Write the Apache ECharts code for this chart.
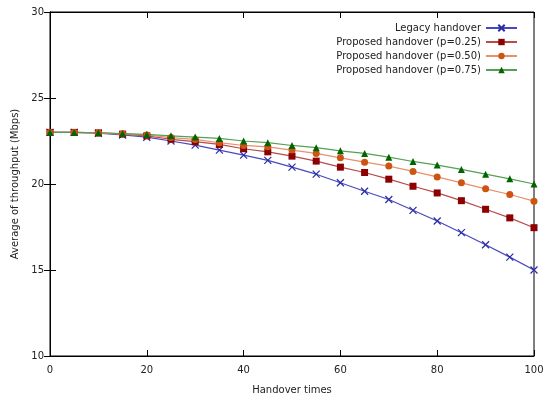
<!DOCTYPE html>
<html>
<head>
<meta charset="utf-8">
<script src="https://cdn.jsdelivr.net/npm/echarts@6/dist/echarts.min.js"></script>
<style>
  html, body { margin: 0; padding: 0; background: #fff; }
  #chart { width: 547px; height: 398px; }
</style>
</head>
<body>
<div id="chart"></div>
<script>
// handover counts on the x axis
const handoverTimes = [0, 5, 10, 15, 20, 25, 30, 35, 40, 45, 50, 55, 60, 65, 70, 75, 80, 85, 90, 95, 100];

// average throughput (Mbps)
const legacy = [23.0, 23.0, 22.95, 22.85, 22.72, 22.5, 22.26, 21.97, 21.68, 21.37, 20.98, 20.57, 20.07, 19.58, 19.1, 18.47, 17.85, 17.17, 16.47, 15.75, 15.0];
const p025 = [23.0, 23.0, 22.97, 22.9, 22.8, 22.6, 22.46, 22.3, 22.05, 21.87, 21.62, 21.33, 20.98, 20.67, 20.28, 19.87, 19.48, 19.03, 18.53, 18.03, 17.46];
const p050 = [23.0, 23.0, 22.97, 22.92, 22.85, 22.7, 22.59, 22.4, 22.24, 22.16, 21.97, 21.78, 21.52, 21.27, 21.04, 20.73, 20.41, 20.07, 19.72, 19.39, 19.0];
const p075 = [23.0, 23.0, 22.98, 22.93, 22.88, 22.8, 22.73, 22.65, 22.5, 22.4, 22.24, 22.11, 21.93, 21.78, 21.56, 21.31, 21.1, 20.85, 20.57, 20.3, 20.0];

const names = [
  "Legacy handover",
  "Proposed handover (p=0.25)",
  "Proposed handover (p=0.50)",
  "Proposed handover (p=0.75)",
];

const FONT = "DejaVu Sans";
const TEXT = "#222";
const crossPath = "path://M0,0L10,10M10,0L0,10";

function pairs(vals) {
  return handoverTimes.map((x, i) => [x, vals[i]]);
}

function makeSeries(name, vals, lineColor, markColor, symbol, size, stroke) {
  return {
    name,
    type: "line",
    data: pairs(vals),
    symbol,
    symbolSize: size,
    showSymbol: true,
    lineStyle: { color: lineColor, width: 1.2 },
    itemStyle: stroke
      ? { color: "rgba(0,0,0,0)", borderColor: markColor, borderWidth: 1.2 }
      : { color: markColor, borderWidth: 0 },
    emphasis: { disabled: true },
    animation: false,
  };
}

const chart = echarts.init(document.getElementById("chart"));

const tickStyle = { inside: true, length: 6, lineStyle: { color: "#000" } };
const axisText = { fontFamily: FONT, fontSize: 10, color: TEXT };

chart.setOption({
  backgroundColor: "#fff",
  animation: false,
  grid: {
    left: 50,
    right: 13,
    top: 12,
    bottom: 42,
    outerBoundsMode: "none",
    show: true,
    borderColor: "#000",
    borderWidth: 1,
  },
  legend: {
    data: names,
    right: 24,
    top: 18,
    orient: "vertical",
    align: "right",
    itemGap: 4,
    itemWidth: 31,
    itemHeight: 8,
    textStyle: { fontFamily: FONT, fontSize: 10, color: TEXT },
  },
  xAxis: [
    {
      type: "value",
      min: 0,
      max: 100,
      interval: 20,
      name: "Handover times",
      nameLocation: "middle",
      nameGap: 29,
      nameTextStyle: axisText,
      axisLine: { show: true, lineStyle: { color: "#000" } },
      axisTick: tickStyle,
      axisLabel: Object.assign({ margin: 9 }, axisText),
      splitLine: { show: false },
    },
    {
      type: "value",
      position: "top",
      min: 0,
      max: 100,
      interval: 20,
      axisLine: { show: true, lineStyle: { color: "#000" } },
      axisTick: tickStyle,
      axisLabel: { show: false },
      splitLine: { show: false },
    },
  ],
  yAxis: [
    {
      type: "value",
      min: 10,
      max: 30,
      interval: 5,
      name: "Average of throughput (Mbps)",
      nameLocation: "middle",
      nameGap: 27,
      nameTextStyle: axisText,
      axisLine: { show: true, lineStyle: { color: "#000" } },
      axisTick: tickStyle,
      axisLabel: Object.assign({ margin: 6 }, axisText),
      splitLine: { show: false },
    },
    {
      type: "value",
      position: "right",
      min: 10,
      max: 30,
      interval: 5,
      axisLine: { show: true, lineStyle: { color: "#000" } },
      axisTick: tickStyle,
      axisLabel: { show: false },
      splitLine: { show: false },
    },
  ],
  series: [
    makeSeries(names[0], legacy, "#4848c0", "#2a2aa8", crossPath, 7, true),
    makeSeries(names[1], p025, "#b84a4a", "#8b0000", "rect", 7, false),
    makeSeries(names[2], p050, "#e8906a", "#cc5511", "circle", 7, false),
    makeSeries(names[3], p075, "#55a055", "#006400", "triangle", 7, false),
  ],
});
</script>
</body>
</html>
